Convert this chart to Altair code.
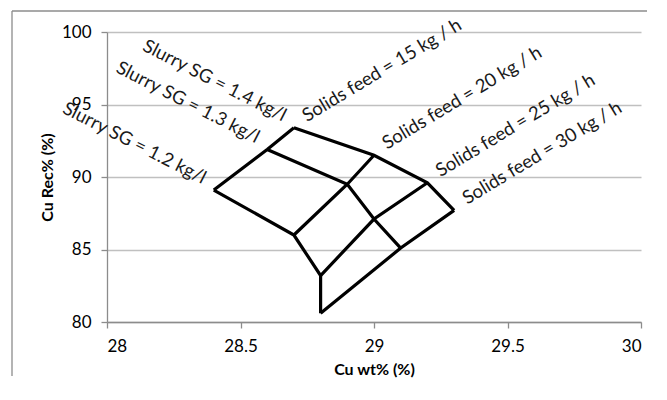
import altair as alt
import pandas as pd

# Data
slurry_sg = [1.2, 1.3, 1.4]
solids_feed = [15, 20, 25, 30]
# Cu wt% per SG, ordered by solids feed 15, 20, 25, 30
cu_wt = {
    1.2: [28.4, 28.7, 28.8, 28.8],
    1.3: [28.6, 28.9, 29.0, 29.1],
    1.4: [28.7, 29.0, 29.2, 29.3],
}
# Cu Rec% per SG, ordered by solids feed 15, 20, 25, 30
cu_rec = {
    1.2: [89.1, 86.0, 83.2, 80.6],
    1.3: [91.9, 89.5, 87.1, 85.1],
    1.4: [93.4, 91.5, 89.6, 87.7],
}
x_ticks = [28, 28.5, 29, 29.5, 30]
y_ticks = [80, 85, 90, 95, 100]

rows = []
for sg in slurry_sg:
    for i, f in enumerate(solids_feed):
        rows.append({
            "sg": sg, "feed": f, "x": cu_wt[sg][i], "y": cu_rec[sg][i],
            "sg_label": f"Slurry SG = {sg} kg/l",
            "feed_label": f"Solids feed = {f} kg / h",
        })
df = pd.DataFrame(rows)

FONT = "Lato"

xenc = alt.X("x:Q", scale=alt.Scale(domain=[28, 30], nice=False),
             axis=alt.Axis(values=x_ticks, format="~g", grid=False,
                           title="Cu wt% (%)", titlePadding=7))
yenc = alt.Y("y:Q", scale=alt.Scale(domain=[80, 100], nice=False),
             axis=alt.Axis(values=y_ticks, format="d", grid=True,
                           title="Cu Rec% (%)", titlePadding=6))

base = alt.Chart(df)
one = "datum.sg == 1.2 && datum.feed == 15"

# decorative chart-area border (top and left edges), kept inside the drawing
border_top = base.mark_rule(stroke="#8c8c8c", strokeWidth=1.3).encode(
    x=alt.value(-95), x2=alt.value(540), y=alt.value(-21)
).transform_filter(one)
border_left = base.mark_rule(stroke="#8c8c8c", strokeWidth=1.3).encode(
    x=alt.value(-95), y=alt.value(-21), y2=alt.value(344)
).transform_filter(one)

sg_lines = base.mark_line(color="black", strokeWidth=3.2, strokeJoin="miter").encode(
    x=xenc, y=yenc, detail="sg:N", order="feed:Q"
)
feed_lines = base.mark_line(color="black", strokeWidth=3.2, strokeJoin="miter").encode(
    x="x:Q", y="y:Q", detail="feed:N", order="sg:Q"
)
sg_text = base.mark_text(
    angle=27, align="right", baseline="alphabetic", dx=-13, dy=0,
    font=FONT, fontSize=18.5, color="#1a1a1a"
).encode(x="x:Q", y="y:Q", text="sg_label:N").transform_filter("datum.feed == 15")
feed_text = base.mark_text(
    angle=329, align="left", baseline="alphabetic", dx=14, dy=2,
    font=FONT, fontSize=18.5, color="#1a1a1a"
).encode(x="x:Q", y="y:Q", text="feed_label:N").transform_filter("datum.sg == 1.4")

chart = alt.layer(border_top, border_left, sg_lines, feed_lines, sg_text, feed_text).properties(
    width=534, height=290,
    autosize=alt.AutoSizeParams(type="none"),
    padding={"left": 99, "top": 24, "right": 10, "bottom": 56},
).configure_view(stroke=None).configure_axis(
    labelFont=FONT, labelFontSize=17, labelColor="#000",
    labelPadding=10, tickSize=6, tickColor="#8c8c8c", domainColor="#8c8c8c",
    domainWidth=1.3, tickWidth=1.3, gridColor="#c0c0c0", gridWidth=1.5,
    titleFont=FONT, titleFontSize=16, titleFontWeight="bold", titleColor="#000",
)

chart.save("out.html", embed_options={"renderer": "svg", "actions": False})
